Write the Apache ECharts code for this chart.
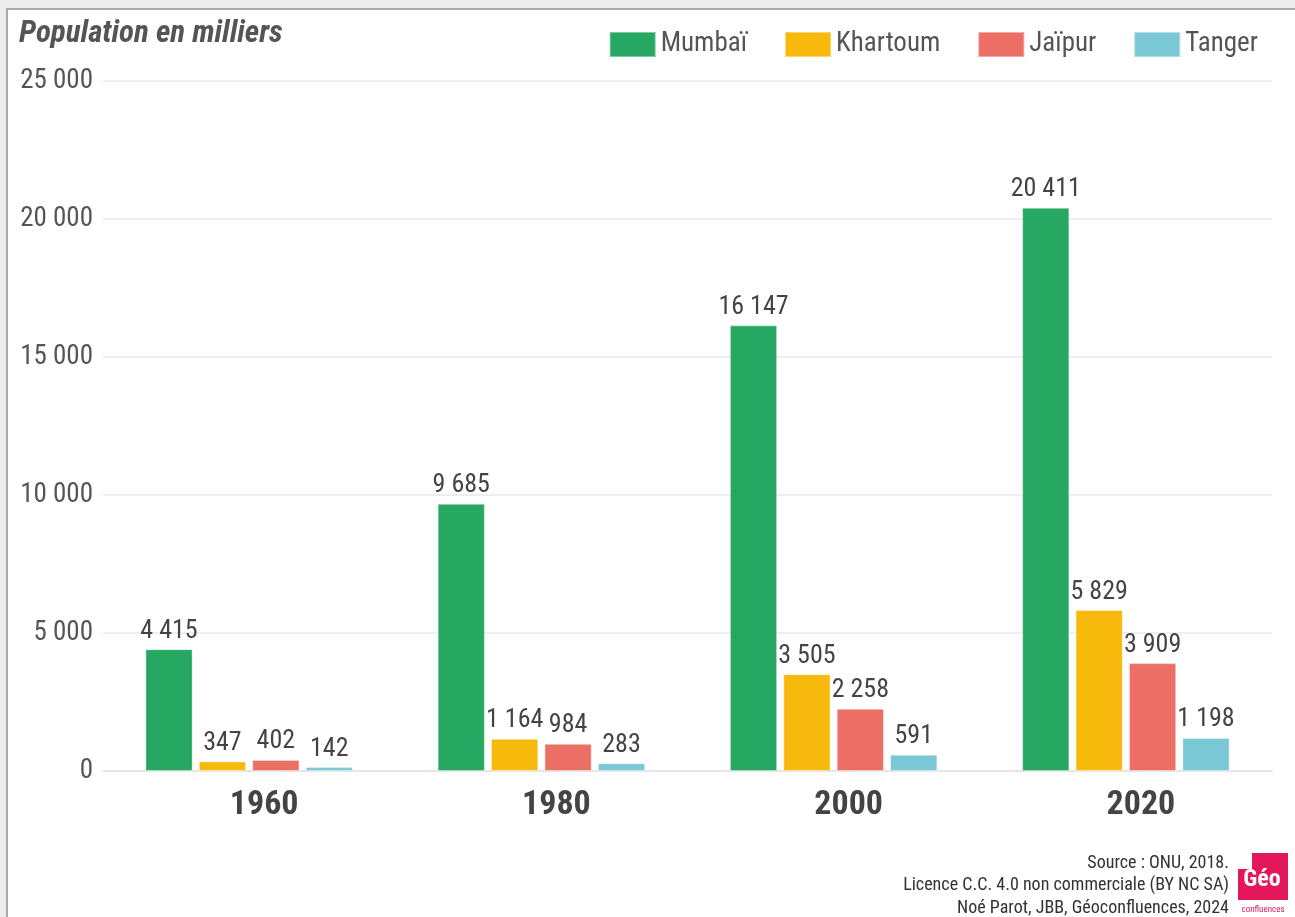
<!DOCTYPE html>
<html>
<head>
<meta charset="utf-8">
<script src="https://cdn.jsdelivr.net/npm/echarts@6/dist/echarts.min.js"></script>
<style>
  html, body { margin: 0; padding: 0; background: #ececec; }
  #frame { position: absolute; left: 6px; top: 8px; right: 0; bottom: 0; background: #fff;
           border-left: 2px solid #aaa8a6; border-top: 2px solid #aaa8a6; }
  #chart { position: absolute; left: 0; top: 0; width: 1295px; height: 917px; }
</style>
</head>
<body>
<div id="frame"></div>
<div id="chart"></div>
<script>
// years and population (thousands) per city
var years = ['1960', '1980', '2000', '2020']
var mumbai = [4415, 9685, 16147, 20411]
var khartoum = [347, 1164, 3505, 5829]
var jaipur = [402, 984, 2258, 3909]
var tanger = [142, 283, 591, 1198]
var yTicks = [0, 5000, 10000, 15000, 20000, 25000]
var sourceLines = ['Source : ONU, 2018.', 'Licence C.C. 4.0 non commerciale (BY NC SA)', 'Noé Parot, JBB, Géoconfluences, 2024']

var FONT = "'Roboto Condensed', 'Roboto', sans-serif"

function fmt (v) {
  return String(v).replace(/\B(?=(\d{3})+(?!\d))/g, ' ')
}

function makeSeries (name, values, color) {
  return {
    name: name,
    type: 'bar',
    data: values,
    barGap: '13%',
    barCategoryGap: '29%',
    itemStyle: { color: color, borderColor: 'rgba(255,255,255,0.4)', borderWidth: 1 },
    label: {
      show: true,
      position: 'top',
      distance: 5,
      fontFamily: FONT,
      fontSize: 26,
      color: '#444',
      formatter: function (p) { return fmt(p.value) }
    }
  }
}

var chart = echarts.init(document.getElementById('chart'))
chart.setOption({
  backgroundColor: 'transparent',
  animation: false,
  title: {
    text: 'Population en milliers',
    left: 19,
    top: 19,
    padding: 0,
    textStyle: { fontFamily: FONT, fontSize: 31, fontStyle: 'italic', fontWeight: 'bold', color: '#555' }
  },
  legend: {
    right: 37,
    top: 31,
    padding: 0,
    itemWidth: 46,
    itemHeight: 25,
    itemGap: 37,
    icon: 'rect',
    textStyle: { fontFamily: FONT, fontSize: 27, color: '#555' },
    data: ['Mumbaï', 'Khartoum', 'Jaïpur', 'Tanger']
  },
  grid: { left: 103, right: 23, top: 81, bottom: 146, containLabel: false },
  xAxis: {
    type: 'category',
    data: years,
    axisLine: { show: true, lineStyle: { color: '#e6e6e6', width: 2 } },
    axisTick: { show: false },
    axisLabel: {
      margin: 17,
      padding: [0, 0, 0, 30],
      fontFamily: FONT, fontSize: 34, fontWeight: 'bold', color: '#444'
    }
  },
  yAxis: {
    type: 'value',
    min: yTicks[0],
    max: yTicks[yTicks.length - 1],
    interval: 5000,
    axisLine: { show: false },
    axisTick: { show: false },
    splitLine: { lineStyle: { color: '#e8e8e8', width: 1.5 } },
    axisLabel: {
      margin: 10,
      fontFamily: FONT, fontSize: 27, color: '#555',
      formatter: function (v) { return fmt(v) }
    }
  },
  series: [
    makeSeries('Mumbaï', mumbai, '#27a862'),
    makeSeries('Khartoum', khartoum, '#f7b90c'),
    makeSeries('Jaïpur', jaipur, '#ec6f66'),
    makeSeries('Tanger', tanger, '#7ac8d6')
  ],
  graphic: [
    {
      type: 'group',
      children: sourceLines.map(function (s, i) {
        return {
          type: 'text',
          x: 1229,
          y: 863 + i * 22.5,
          style: { text: s, align: 'right', verticalAlign: 'middle', fill: '#333', fontFamily: FONT, fontSize: 18 }
        }
      })
    },
    {
      // logo
      type: 'group',
      children: [
        { type: 'rect', shape: { x: 1238, y: 853, width: 50, height: 47 }, style: { fill: '#e3185b' } },
        { type: 'rect', shape: { x: 1238, y: 853, width: 14, height: 16 }, style: { fill: '#fff' } },
        {
          type: 'text', x: 1262, y: 880,
          style: { text: 'Géo', align: 'center', verticalAlign: 'middle', fill: '#fff', fontFamily: FONT, fontSize: 24, fontWeight: 'bold' }
        },
        {
          type: 'text', x: 1263, y: 910,
          style: { text: 'confluences', align: 'center', verticalAlign: 'middle', fill: '#e3185b', fontFamily: FONT, fontSize: 9 }
        }
      ]
    }
  ]
})
</script>
</body>
</html>
